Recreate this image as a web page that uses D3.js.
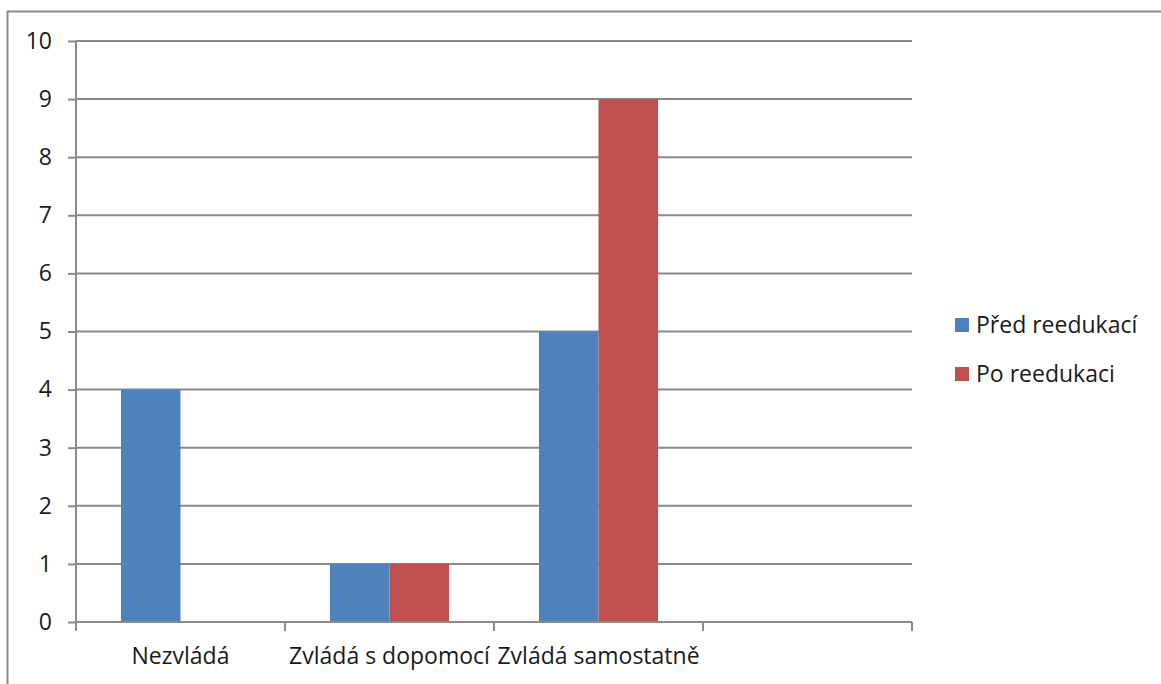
<!DOCTYPE html>
<html><head><meta charset="utf-8">
<script src="https://cdn.jsdelivr.net/npm/d3@7"></script>
<style>body{margin:0;background:#fff;}svg{display:block;}</style>
</head><body>
<svg id="c" width="1161" height="684"></svg>
<script>
const categories = ["Nezvládá", "Zvládá s dopomocí", "Zvládá samostatně", ""];
const seriesNames = ["Před reedukací", "Po reedukaci"];
const predValues = [4, 1, 5, 0];
const poValues = [0, 1, 9, 0];
const yTicks = [0,1,2,3,4,5,6,7,8,9,10];
const colors = ["#4F81BD", "#C0504D"];

const svg = d3.select("#c");
const font = "'Open Sans', sans-serif";
const fs = 23;
const grid = "#8a8a8a";

// outer frame
svg.append("rect").attr("x",7.5).attr("y",11.5).attr("width",1200).attr("height",700)
  .attr("fill","none").attr("stroke","#8a8a8a").attr("stroke-width",2);

const L=76, R=912, T=41, B=622;
const x = d3.scaleBand().domain(categories.map((d,i)=>i)).range([L,R]).paddingInner(0).paddingOuter(0);
const xs = d3.scaleBand().domain(seriesNames).range([0,x.bandwidth()]).paddingInner(0).paddingOuter(0.756);
const y = d3.scaleLinear().domain([0,10]).range([B,T]);

// gridlines
svg.append("g").selectAll("line").data(yTicks.filter(d=>d>0)).join("line")
  .attr("x1",L).attr("x2",R).attr("y1",d=>y(d)).attr("y2",d=>y(d))
  .attr("stroke",grid).attr("stroke-width",2);

// bars
const data = categories.map((c,i)=>({i, vals:[predValues[i], poValues[i]]}));
const g = svg.append("g").selectAll("g").data(data).join("g").attr("transform",d=>`translate(${x(d.i)},0)`);
g.selectAll("rect").data(d=>d.vals.map((v,k)=>({v,k}))).join("rect")
  .attr("x",d=>xs(seriesNames[d.k])).attr("width",xs.bandwidth())
  .attr("y",d=>y(d.v)).attr("height",d=>B-y(d.v))
  .attr("fill",d=>colors[d.k]);

// y axis
const ya = svg.append("g").attr("transform",`translate(${L},0)`)
  .call(d3.axisLeft(y).tickValues(yTicks).tickSize(8).tickPadding(16).tickFormat(d3.format("d")));
ya.select(".domain").attr("stroke",grid).attr("stroke-width",2).attr("d",`M0,${T}V${B}`);
ya.selectAll(".tick line").attr("stroke",grid).attr("stroke-width",2);
ya.selectAll(".tick text").attr("font-family",font).attr("font-size",fs).attr("fill","#1a1a1a");

// x axis
const xa = svg.append("g").attr("transform",`translate(0,${B})`);
xa.append("line").attr("x1",L).attr("x2",R).attr("y1",0).attr("y2",0).attr("stroke",grid).attr("stroke-width",2);
const edges = categories.map((d,i)=>x(i)).concat([R]);
xa.selectAll("line.t").data(edges).join("line").attr("class","t")
  .attr("x1",d=>d).attr("x2",d=>d).attr("y1",0).attr("y2",9).attr("stroke",grid).attr("stroke-width",2);
xa.selectAll("text").data(categories).join("text")
  .attr("x",(d,i)=>x(i)+x.bandwidth()/2).attr("y",42)
  .attr("text-anchor","middle").attr("font-family",font).attr("font-size",fs).attr("fill","#1a1a1a")
  .text(d=>d);

// legend
const lg = svg.append("g").attr("transform","translate(955,318)");
const li = lg.selectAll("g").data(seriesNames).join("g").attr("transform",(d,i)=>`translate(0,${i*49})`);
li.append("rect").attr("width",14).attr("height",14).attr("fill",(d,i)=>colors[i]);
li.append("text").attr("x",21).attr("y",15).attr("font-family",font).attr("font-size",fs).attr("fill","#1a1a1a").text(d=>d);
</script>
</body></html>
